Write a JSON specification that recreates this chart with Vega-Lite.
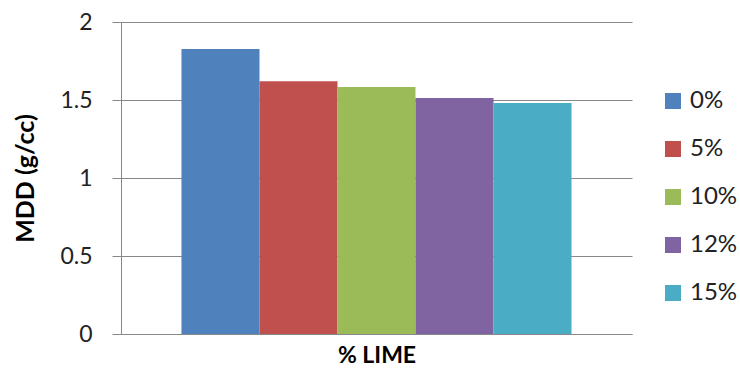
{
  "$schema": "https://vega.github.io/schema/vega-lite/v6.json",
  "width": 511,
  "height": 312,
  "autosize": {"type": "none"},
  "padding": {"left": 121, "top": 22, "right": 108, "bottom": 36},
  "background": "white",
  "config": {
    "font": "Lato",
    "view": {"stroke": null}
  },
  "data": {
    "values": [
      {"group": "% LIME", "lime": "0%", "mdd": 1.827},
      {"group": "% LIME", "lime": "5%", "mdd": 1.62},
      {"group": "% LIME", "lime": "10%", "mdd": 1.583},
      {"group": "% LIME", "lime": "12%", "mdd": 1.513},
      {"group": "% LIME", "lime": "15%", "mdd": 1.48}
    ]
  },
  "mark": {"type": "bar"},
  "encoding": {
    "x": {
      "field": "group",
      "type": "nominal",
      "scale": {"paddingInner": 0, "paddingOuter": 0.155},
      "axis": {
        "title": "% LIME",
        "titleFontSize": 23,
        "titleFontWeight": "bold",
        "titleColor": "black",
        "titlePadding": 10,
        "labels": false,
        "ticks": false,
        "domainColor": "#888888",
        "domainWidth": 1
      }
    },
    "xOffset": {
      "field": "lime",
      "type": "nominal",
      "sort": ["0%", "5%", "10%", "12%", "15%"],
      "scale": {"paddingInner": 0, "paddingOuter": 0}
    },
    "y": {
      "field": "mdd",
      "type": "quantitative",
      "scale": {"domain": [0, 2]},
      "axis": {
        "title": "MDD (g/cc)",
        "titleFontSize": 25,
        "titleFontWeight": "bold",
        "titleColor": "black",
        "titlePadding": 21,
        "values": [0, 0.5, 1, 1.5, 2],
        "format": "",
        "labelExpr": "datum.value == 0 ? '0' : datum.value == 1 ? '1' : datum.value == 2 ? '2' : datum.label",
        "labelFontSize": 23,
        "labelColor": "#222222",
        "labelPadding": 20,
        "tickSize": 9,
        "tickColor": "#888888",
        "domainColor": "#888888",
        "gridColor": "#888888",
        "grid": true
      }
    },
    "color": {
      "field": "lime",
      "type": "nominal",
      "sort": ["0%", "5%", "10%", "12%", "15%"],
      "scale": {
        "domain": ["0%", "5%", "10%", "12%", "15%"],
        "range": ["#4F81BD", "#C0504D", "#9BBB59", "#8064A2", "#4BACC6"]
      },
      "legend": {
        "title": null,
        "orient": "none",
        "legendX": 540,
        "legendY": 67,
        "padding": 0,
        "symbolType": "square",
        "symbolSize": 256,
        "symbolStrokeWidth": 0,
        "labelFontSize": 24,
        "labelColor": "#222222",
        "labelOffset": 5,
        "rowPadding": 24
      }
    }
  }
}
